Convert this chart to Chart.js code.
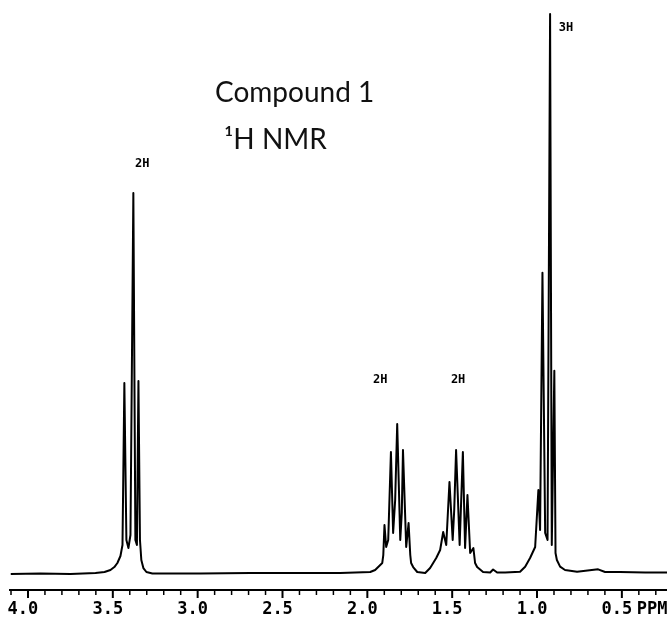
<!DOCTYPE html>
<html>
<head>
<meta charset="utf-8">
<title>Compound 1 - 1H NMR</title>
<script src="https://cdn.jsdelivr.net/npm/chart.js@4.4.1/dist/chart.umd.min.js"></script>
<style>
    html, body { margin: 0; padding: 0; background: #fff; }
    #wrap { position: relative; width: 667px; height: 619px; }
</style>
</head>
<body>
<div id="wrap"><canvas id="chartNmr"></canvas></div>
<script>
// Chemical shift (ppm) of each traced point, left (downfield) to right
const shiftPpm = [
    4.103, 3.926, 3.750, 3.602, 3.549, 3.514, 3.491, 3.473, 3.455, 3.443,
    3.432, 3.420, 3.408, 3.396, 3.379, 3.367, 3.358, 3.349, 3.340, 3.332,
    3.320, 3.302, 3.267, 2.984, 2.690, 2.395, 2.160, 2.071, 1.983, 1.954,
    1.930, 1.912, 1.906, 1.899, 1.889, 1.877, 1.861, 1.848, 1.836, 1.824,
    1.806, 1.797, 1.790, 1.771, 1.757, 1.747, 1.742, 1.730, 1.706, 1.659,
    1.630, 1.612, 1.594, 1.571, 1.553, 1.535, 1.516, 1.497, 1.488, 1.477,
    1.456, 1.437, 1.424, 1.410, 1.394, 1.375, 1.365, 1.353, 1.318, 1.276,
    1.259, 1.235, 1.188, 1.100, 1.070, 1.041, 1.011, 0.992, 0.982, 0.968,
    0.952, 0.938, 0.923, 0.913, 0.898, 0.891, 0.883, 0.864, 0.835, 0.764,
    0.640, 0.599, 0.511, 0.363, 0.234
];

// Signal intensity at each point (tallest line = 100)
const intensity = [
    -0.18, -0.09, -0.18, 0, 0.18, 0.54, 1.07, 1.79, 3.04, 5.01,
    33.99, 5.90, 4.47, 6.80, 67.98, 5.90, 5.01, 34.35, 5.90, 2.33,
    0.89, 0.18, -0.09, -0.09, 0, 0, 0, 0.09, 0.18, 0.54,
    1.25, 1.79, 3.22, 8.59, 4.65, 5.90, 21.65, 7.16, 13.06, 26.65,
    5.90, 10.73, 22.00, 4.65, 8.94, 3.22, 1.79, 1.07, 0.18, 0,
    0.89, 1.79, 2.68, 4.11, 7.33, 5.01, 16.28, 5.90, 11.27, 22.00,
    5.01, 21.65, 4.47, 13.95, 3.58, 4.47, 1.79, 1.07, 0.18, 0.09,
    0.63, 0.09, 0.09, 0.23, 1.13, 2.68, 4.65, 14.85, 7.69, 53.72,
    7.16, 5.90, 100, 5.01, 36.19, 3.58, 2.33, 1.13, 0.54, 0.23,
    0.66, 0.18, 0.18, 0.09, 0.09
];

// Axis ticks every 0.1 ppm, labels only on the 0.5 steps
const tickPpm = [4.1, 4.0, 3.9, 3.8, 3.7, 3.6, 3.5, 3.4, 3.3, 3.2, 3.1, 3.0,
                 2.9, 2.8, 2.7, 2.6, 2.5, 2.4, 2.3, 2.2, 2.1, 2.0, 1.9, 1.8,
                 1.7, 1.6, 1.5, 1.4, 1.3, 1.2, 1.1, 1.0, 0.9, 0.8, 0.7, 0.6,
                 0.5, 0.4, 0.3];
const tickLabels = ['4.0', '3.5', '3.0', '2.5', '2.0', '1.5', '1.0', '0.5'];

// Integration labels above each multiplet
const integText = ['2H', '2H', '2H', '3H'];
const integPpm = [3.326, 1.924, 1.465, 0.829];
const integLevel = [73.2, 34.5, 34.5, 97.5];

const monoFont = '"DejaVu Sans Mono", "Liberation Mono", monospace';

// Plugin: tick marks (long on 0.5 steps), integrals, handwritten note, PPM unit
const nmrDecor = {
    id: 'nmrDecor',
    afterDraw(chart) {
        const ctx = chart.ctx;
        const xs = chart.scales.x;
        const ys = chart.scales.y;
        const bottom = chart.chartArea.bottom;

        ctx.save();
        ctx.strokeStyle = '#000';
        xs.ticks.forEach(t => {
            const major = tickLabels.includes(t.value.toFixed(1));
            const px = xs.getPixelForValue(t.value);
            ctx.lineWidth = major ? 2 : 1.5;
            ctx.beginPath();
            ctx.moveTo(px, bottom);
            ctx.lineTo(px, bottom + (major ? 8 : 5));
            ctx.stroke();
        });

        ctx.fillStyle = '#000';
        ctx.font = 'bold 12px ' + monoFont;
        ctx.textAlign = 'center';
        ctx.textBaseline = 'middle';
        integText.forEach((txt, i) => {
            ctx.fillText(txt, xs.getPixelForValue(integPpm[i]), ys.getPixelForValue(integLevel[i]));
        });

        // satuan di belakang label terakhir
        ctx.font = 'bold 17px ' + monoFont;
        ctx.textAlign = 'left';
        ctx.fillText('PPM', xs.getPixelForValue(0.5) + 15, bottom + 20);

        // catatan tulisan tangan
        ctx.font = '28px Lato, "Open Sans", sans-serif';
        ctx.textBaseline = 'alphabetic';
        ctx.fillStyle = '#111';
        ctx.fillText('Compound 1', 215, 102);
        ctx.fillText('\u00B9H NMR', 224, 149);
        ctx.restore();
    }
};

const points = shiftPpm.map((p, i) => ({ x: p, y: intensity[i] }));

new Chart(document.getElementById('chartNmr'), {
    type: 'line',
    data: {
        datasets: [{
            data: points,
            borderColor: '#000',
            borderWidth: 2,
            borderJoinStyle: 'round',
            pointRadius: 0,
            tension: 0,
            fill: false
        }]
    },
    options: {
        responsive: true,
        maintainAspectRatio: false,
        animation: false,
        devicePixelRatio: 1,
        layout: { padding: { left: 10, right: 0, top: 5, bottom: 1 } },
        plugins: { legend: { display: false }, tooltip: { enabled: false } },
        scales: {
            x: {
                type: 'linear',
                reverse: true,
                min: 0.234,
                max: 4.103,
                afterBuildTicks: scale => { scale.ticks = tickPpm.map(v => ({ value: v })); },
                afterFit: scale => { scale.height = 28; },
                grid: { display: true, drawOnChartArea: false, drawTicks: false },
                border: { display: true, color: '#000', width: 2 },
                ticks: {
                    autoSkip: false,
                    maxRotation: 0,
                    padding: 11,
                    labelOffset: -5,
                    color: '#000',
                    font: { family: monoFont, size: 17, weight: 'bold', lineHeight: 1 },
                    callback: value => {
                        const s = Number(value).toFixed(1);
                        return tickLabels.includes(s) ? s : '';
                    }
                }
            },
            y: {
                display: false,
                min: -3.04,
                max: 101.6
            }
        }
    },
    plugins: [nmrDecor]
});
</script>
</body>
</html>
